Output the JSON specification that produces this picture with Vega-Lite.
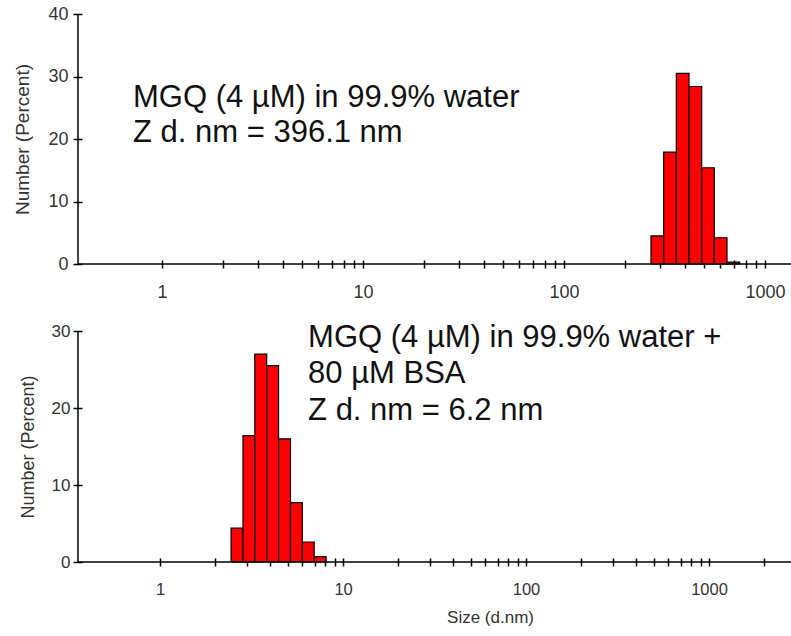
{
  "$schema": "https://vega.github.io/schema/vega-lite/v6.json",
  "padding": {"left": 13, "top": 5, "right": 0, "bottom": 0},
  "spacing": 67,
  "bounds": "flush",
  "config": {
    "view": {"stroke": null},
    "font": "Liberation Sans",
    "axis": {"grid": false, "domain": false, "tickColor": "#000", "tickWidth": 1.5, "labelColor": "#333", "titleColor": "#333", "titleFontWeight": "normal", "labelOverlap": false, "labelFlush": false}
  },
  "datasets": {
    "top": [
      {"lo": 270.9, "hi": 313.3, "pct": 4.5},
      {"lo": 313.3, "hi": 362.2, "pct": 17.9},
      {"lo": 362.2, "hi": 418.7, "pct": 30.5},
      {"lo": 418.7, "hi": 484.2, "pct": 28.4},
      {"lo": 484.2, "hi": 559.6, "pct": 15.4},
      {"lo": 559.6, "hi": 647.1, "pct": 4.2},
      {"lo": 647.1, "hi": 748.3, "pct": 0.3}
    ],
    "bottom": [
      {"lo": 2.443, "hi": 2.838, "pct": 4.4},
      {"lo": 2.838, "hi": 3.294, "pct": 16.4},
      {"lo": 3.294, "hi": 3.824, "pct": 27.0},
      {"lo": 3.824, "hi": 4.442, "pct": 25.5},
      {"lo": 4.442, "hi": 5.161, "pct": 16.0},
      {"lo": 5.161, "hi": 5.989, "pct": 7.7},
      {"lo": 5.989, "hi": 6.953, "pct": 2.6},
      {"lo": 6.953, "hi": 8.075, "pct": 0.7}
    ],
    "top_text": [
      {"x": 0.7174, "y": 25.1, "t": "MGQ (4 µM) in 99.9% water"},
      {"x": 0.7174, "y": 19.5, "t": "Z d. nm = 396.1 nm"}
    ],
    "bottom_text": [
      {"x": 6.44, "y": 27.92, "t": "MGQ (4 µM) in 99.9% water +"},
      {"x": 6.44, "y": 23.25, "t": "80 µM BSA"},
      {"x": 6.44, "y": 18.44, "t": "Z d. nm = 6.2 nm"}
    ],
    "one": [{}]
  },
  "vconcat": [
    {
      "width": 713,
      "height": 250,
      "layer": [
        {
          "data": {"name": "top"},
          "mark": {"type": "rect", "fill": "#ff0000", "stroke": "#000", "strokeWidth": 1.2},
          "encoding": {
            "x": {"field": "lo", "type": "quantitative", "scale": {"type": "log", "domain": [0.382, 1347], "nice": false},
              "axis": {"values": [1,2,3,4,5,6,7,8,9,10,20,30,40,50,60,70,80,90,100,200,300,400,500,600,700,800,900,1000],
                "labelExpr": "datum.value == 1 || datum.value == 10 || datum.value == 100 || datum.value == 1000 ? datum.value + '' : ''",
                "offset": -4, "tickSize": 8, "labelFontSize": 18, "labelPadding": 15, "title": null}},
            "x2": {"field": "hi"},
            "y": {"field": "pct", "type": "quantitative", "scale": {"domain": [0, 40], "nice": false},
              "axis": {"values": [0,5,10,15,20,25,30,35,40], "labelExpr": "datum.value % 10 == 0 ? datum.label : ''",
                "offset": -4, "tickSize": 9, "labelFontSize": 18, "labelPadding": 5,
                "title": "Number (Percent)", "titleFontSize": 19, "titlePadding": 15}},
            "y2": {"datum": 0}
          }
        },
        {
          "data": {"name": "top_text"},
          "mark": {"type": "text", "align": "left", "baseline": "alphabetic", "fontSize": 31, "color": "#111"},
          "encoding": {
            "x": {"field": "x", "type": "quantitative"},
            "y": {"field": "y", "type": "quantitative"},
            "text": {"field": "t"}
          }
        },
        {
          "data": {"name": "one"},
          "mark": {"type": "rule", "color": "#000", "strokeWidth": 1.5},
          "encoding": {"y": {"datum": 0}}
        },
        {
          "data": {"name": "one"},
          "mark": {"type": "rule", "color": "#000", "strokeWidth": 1.5},
          "encoding": {"x": {"datum": 0.382}}
        }
      ]
    },
    {
      "width": 713,
      "height": 231,
      "layer": [
        {
          "data": {"name": "bottom"},
          "mark": {"type": "rect", "fill": "#ff0000", "stroke": "#000", "strokeWidth": 1.2},
          "encoding": {
            "x": {"field": "lo", "type": "quantitative", "scale": {"type": "log", "domain": [0.356, 2806], "nice": false},
              "axis": {"values": [1,2,3,4,5,6,7,8,9,10,20,30,40,50,60,70,80,90,100,200,300,400,500,600,700,800,900,1000,2000],
                "labelExpr": "datum.value == 1 || datum.value == 10 || datum.value == 100 || datum.value == 1000 ? datum.value + '' : ''",
                "offset": -4, "tickSize": 8, "labelFontSize": 16.5, "labelPadding": 15,
                "title": "Size (d.nm)", "titleFontSize": 17, "titlePadding": 12, "titleX": 412}},
            "x2": {"field": "hi"},
            "y": {"field": "pct", "type": "quantitative", "scale": {"domain": [0, 30], "nice": false},
              "axis": {"values": [0,5,10,15,20,25,30], "labelExpr": "datum.value % 10 == 0 ? datum.label : ''",
                "offset": -4, "tickSize": 9, "labelFontSize": 17, "labelPadding": 3,
                "title": "Number (Percent)", "titleFontSize": 18, "titlePadding": 14}},
            "y2": {"datum": 0}
          }
        },
        {
          "data": {"name": "bottom_text"},
          "mark": {"type": "text", "align": "left", "baseline": "alphabetic", "fontSize": 31, "color": "#111"},
          "encoding": {
            "x": {"field": "x", "type": "quantitative"},
            "y": {"field": "y", "type": "quantitative"},
            "text": {"field": "t"}
          }
        },
        {
          "data": {"name": "one"},
          "mark": {"type": "rule", "color": "#000", "strokeWidth": 1.5},
          "encoding": {"y": {"datum": 0}}
        },
        {
          "data": {"name": "one"},
          "mark": {"type": "rule", "color": "#000", "strokeWidth": 1.5},
          "encoding": {"x": {"datum": 0.356}}
        }
      ]
    }
  ]
}
